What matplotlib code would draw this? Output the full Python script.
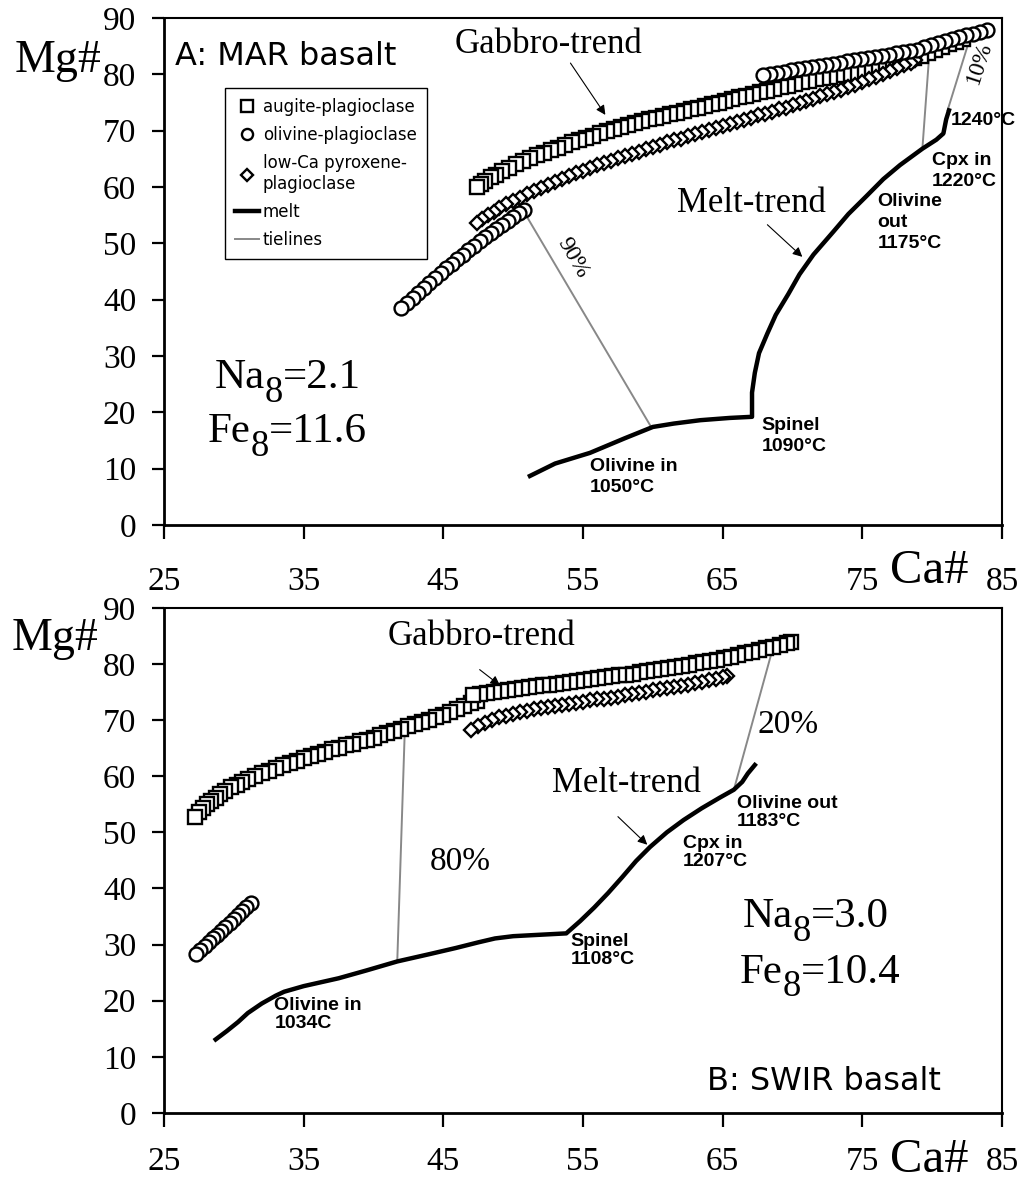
import numpy as np
import matplotlib
matplotlib.use("Agg")
import matplotlib.pyplot as plt

plt.rcParams["font.family"] = ["Liberation Serif", "DejaVu Serif"]

# ---------------- Panel A: MAR basalt ----------------
a_sq_x = [47.4, 47.7, 48.0, 48.4, 48.8, 49.2, 49.7, 50.2, 50.7, 51.2, 51.7, 52.2, 52.7, 53.2,
          53.7, 54.2, 54.7, 55.2, 55.7, 56.2, 56.7, 57.2, 57.7, 58.2, 58.7, 59.2, 59.7, 60.2,
          60.7, 61.2, 61.7, 62.2, 62.7, 63.2, 63.7, 64.2, 64.7, 65.2, 65.7, 66.2, 66.7, 67.2,
          67.7, 68.2, 68.7, 69.2, 69.7, 70.2, 70.7, 71.2, 71.7, 72.2, 72.7, 73.2, 73.7, 74.2,
          74.7, 75.2, 75.7, 76.2, 76.7, 77.2, 77.7, 78.2, 78.7, 79.2, 79.7, 80.2, 80.7, 81.2,
          81.7, 82.2]
a_sq_y = [60.0, 60.6, 61.1, 61.7, 62.2, 62.8, 63.4, 64.0, 64.6, 65.1, 65.6, 66.1, 66.6, 67.0,
          67.4, 67.9, 68.3, 68.7, 69.1, 69.5, 69.9, 70.3, 70.6, 71.0, 71.3, 71.7, 72.0, 72.3,
          72.6, 72.9, 73.2, 73.5, 73.8, 74.1, 74.4, 74.7, 75.0, 75.3, 75.6, 75.9, 76.2, 76.5,
          76.8, 77.1, 77.4, 77.7, 78.0, 78.3, 78.6, 78.8, 79.1, 79.3, 79.6, 79.8, 80.1, 80.3,
          80.6, 80.8, 81.1, 81.3, 81.6, 81.9, 82.2, 82.5, 82.9, 83.3, 83.8, 84.3, 84.8, 85.3,
          85.8, 86.3]

a_di_x = [47.4, 47.8, 48.2, 48.6, 49.0, 49.5, 50.0, 50.5, 51.0, 51.5, 52.0, 52.5, 53.0, 53.5,
          54.0, 54.5, 55.0, 55.5, 56.0, 56.5, 57.0, 57.5, 58.0, 58.5, 59.0, 59.5, 60.0, 60.5,
          61.0, 61.5, 62.0, 62.5, 63.0, 63.5, 64.0, 64.5, 65.0, 65.5, 66.0, 66.5, 67.0, 67.5,
          68.0, 68.5, 69.0, 69.5, 70.0, 70.5, 71.0, 71.5, 72.0, 72.5, 73.0, 73.5, 74.0, 74.5,
          75.0, 75.5, 76.0, 76.5, 77.0, 77.5, 78.0, 78.5, 78.8]
a_di_y = [53.6, 54.3, 55.0, 55.6, 56.2, 56.9, 57.5, 58.1, 58.7, 59.3, 59.8, 60.4, 60.9, 61.4,
          61.9, 62.4, 62.9, 63.4, 63.9, 64.3, 64.7, 65.1, 65.5, 65.9, 66.3, 66.7, 67.1, 67.5,
          67.9, 68.3, 68.6, 69.0, 69.4, 69.7, 70.1, 70.5, 70.8, 71.2, 71.6, 71.9, 72.3, 72.7,
          73.0, 73.4, 73.8, 74.1, 74.5, 74.9, 75.3, 75.7, 76.1, 76.5, 76.9, 77.3, 77.7, 78.1,
          78.6, 79.1, 79.6, 80.1, 80.6, 81.1, 81.6, 82.1, 82.5]

a_ci_hi_x = [67.9, 68.4, 68.9, 69.4, 69.9, 70.4, 70.9, 71.4, 71.9, 72.4, 72.9, 73.4, 73.9, 74.4,
             74.9, 75.4, 75.9, 76.4, 76.9, 77.4, 77.9, 78.4, 78.9, 79.4, 79.9, 80.4, 80.9, 81.4,
             81.9, 82.4, 82.9, 83.4, 83.9]
a_ci_hi_y = [79.9, 80.1, 80.3, 80.5, 80.7, 80.9, 81.1, 81.3, 81.5, 81.7, 81.9, 82.1, 82.3, 82.5,
             82.7, 82.9, 83.1, 83.3, 83.5, 83.7, 83.9, 84.1, 84.3, 84.8, 85.2, 85.6, 86.0, 86.3,
             86.6, 86.9, 87.2, 87.5, 87.8]

a_ci_lo_x = [42.0, 42.4, 42.8, 43.2, 43.6, 44.0, 44.4, 44.8, 45.2, 45.6, 46.0, 46.4, 46.8, 47.2,
             47.6, 48.0, 48.4, 48.8, 49.2, 49.6, 50.0, 50.4, 50.8]
a_ci_lo_y = [38.5, 39.4, 40.3, 41.2, 42.1, 43.0, 43.9, 44.8, 45.6, 46.4, 47.2, 48.0, 48.8, 49.6,
             50.4, 51.1, 51.8, 52.5, 53.2, 53.9, 54.6, 55.3, 56.0]

a_melt_x = [51.2, 53.0, 55.5, 58.0, 60.0, 61.5, 63.4, 65.5, 67.1, 67.1, 67.3, 67.6, 68.2, 68.8,
            69.7, 70.5, 71.5, 72.9, 74.0, 75.3, 76.5, 77.7, 79.3, 80.3, 80.8, 81.0, 81.2]
a_melt_y = [8.7, 10.9, 12.8, 15.4, 17.4, 18.0, 18.6, 19.0, 19.2, 23.5, 27.0, 30.5, 34.0, 37.3,
            41.0, 44.5, 48.0, 52.0, 55.2, 58.4, 61.4, 63.9, 66.8, 68.4, 69.5, 72.0, 73.6]

a_tie_x = [[50.7, 59.9], [79.3, 79.8], [81.1, 82.8]]
a_tie_y = [[55.9, 17.3], [66.9, 83.9], [73.6, 87.2]]

# ---------------- Panel B: SWIR basalt ----------------
b_sq1_x = [47.1, 47.6, 48.1, 48.6, 49.1, 49.6, 50.1, 50.6, 51.1, 51.6, 52.1, 52.6, 53.1, 53.6,
           54.1, 54.6, 55.1, 55.6, 56.1, 56.6, 57.1, 57.6, 58.1, 58.6, 59.1, 59.6, 60.1, 60.6,
           61.1, 61.6, 62.1, 62.6, 63.1, 63.6, 64.1, 64.6, 65.1, 65.6, 66.1, 66.6, 67.1, 67.6,
           68.1, 68.6, 69.1, 69.6, 69.9]
b_sq1_y = [74.5, 74.7, 74.9, 75.0, 75.2, 75.4, 75.5, 75.7, 75.9, 76.0, 76.2, 76.3, 76.5, 76.6,
           76.8, 77.0, 77.1, 77.3, 77.5, 77.6, 77.8, 78.0, 78.1, 78.3, 78.5, 78.7, 78.9, 79.1,
           79.3, 79.5, 79.7, 79.9, 80.1, 80.3, 80.6, 80.8, 81.1, 81.3, 81.6, 81.9, 82.2, 82.5,
           82.8, 83.1, 83.4, 83.7, 83.9]

b_sq2_x = [27.2, 27.5, 27.8, 28.1, 28.4, 28.7, 29.0, 29.4, 29.8, 30.2, 30.6, 31.0, 31.5, 32.0,
           32.5, 33.0, 33.5, 34.0, 34.5, 35.0, 35.5, 36.0, 36.5, 37.0, 37.5, 38.0, 38.5, 39.0,
           39.5, 40.0, 40.5, 41.0, 41.5, 42.0, 42.5, 43.0, 43.5, 44.0, 44.5, 45.0, 45.5, 46.0,
           46.5, 47.0, 47.4]
b_sq2_y = [52.8, 53.6, 54.3, 55.0, 55.6, 56.2, 56.8, 57.4, 58.0, 58.5, 59.0, 59.5, 60.0, 60.5,
           61.0, 61.5, 62.0, 62.4, 62.8, 63.2, 63.6, 64.0, 64.4, 64.8, 65.1, 65.5, 65.8, 66.2,
           66.5, 66.9, 67.3, 67.7, 68.1, 68.5, 68.9, 69.3, 69.7, 70.1, 70.5, 71.0, 71.5, 72.0,
           72.5, 73.0, 73.4]

b_di_x = [47.0, 47.5, 48.0, 48.5, 49.0, 49.5, 50.0, 50.5, 51.0, 51.5, 52.0, 52.5, 53.0, 53.5,
          54.0, 54.5, 55.0, 55.5, 56.0, 56.5, 57.0, 57.5, 58.0, 58.5, 59.0, 59.5, 60.0, 60.5,
          61.0, 61.5, 62.0, 62.5, 63.0, 63.5, 64.0, 64.5, 65.0, 65.3]
b_di_y = [68.3, 68.9, 69.5, 70.0, 70.5, 70.8, 71.1, 71.4, 71.7, 71.9, 72.1, 72.3, 72.5, 72.7,
          72.9, 73.1, 73.3, 73.5, 73.7, 73.8, 74.0, 74.2, 74.4, 74.6, 74.9, 75.1, 75.3, 75.5,
          75.7, 75.9, 76.1, 76.3, 76.6, 76.8, 77.1, 77.4, 77.7, 77.9]

b_ci_x = [27.3, 27.6, 27.9, 28.2, 28.5, 28.8, 29.1, 29.4, 29.7, 30.0, 30.3, 30.6, 30.9, 31.2]
b_ci_y = [28.3, 29.0, 29.7, 30.4, 31.1, 31.8, 32.5, 33.2, 33.9, 34.6, 35.3, 36.0, 36.7, 37.4]

b_melt_x = [28.7, 29.5, 30.3, 31.0, 32.0, 33.0, 33.6, 35.0, 37.5, 39.5, 41.7, 44.0, 45.9, 47.5,
            48.7, 50.0, 51.5, 53.8, 54.8, 55.8, 56.8, 57.8, 58.8, 59.8, 61.0, 62.2, 63.5, 64.8,
            65.8, 66.4, 66.8, 67.3]
b_melt_y = [13.1, 14.6, 16.2, 17.8, 19.5, 20.9, 21.6, 22.6, 24.0, 25.4, 27.0, 28.3, 29.4, 30.4,
            31.1, 31.5, 31.7, 32.0, 34.2, 36.6, 39.2, 42.0, 44.9, 47.4, 50.0, 52.2, 54.3, 56.2,
            57.6, 59.0, 60.5, 62.0]

b_tie_x = [[41.7, 42.25], [65.8, 68.5]]
b_tie_y = [[27.0, 69.0], [57.6, 82.0]]

X_TICKS = [25, 35, 45, 55, 65, 75, 85]
Y_TICKS = [0, 10, 20, 30, 40, 50, 60, 70, 80, 90]
LEGEND_LABELS = ["augite-plagioclase", "olivine-plagioclase",
                 "low-Ca pyroxene-\nplagioclase", "melt", "tielines"]

MK = dict(ls="none", mfc="white", mec="black", mew=1.7)
LBL = dict(family="Liberation Sans", weight="bold", fontsize=14, va="top", ha="left")
TREND = dict(family="Liberation Serif", fontsize=25)
ARROW = dict(arrowstyle="-|>", color="black", lw=0.8, mutation_scale=14,
             shrinkA=0, shrinkB=0)
TIE = dict(color="#888888", lw=1.4, zorder=2)


def markers(ax, x, y, marker, ms):
    # draw from high Ca# to low so the last (coolest) point sits on top
    h, = ax.plot(np.asarray(x)[::-1], np.asarray(y)[::-1], marker=marker, ms=ms,
                 zorder=4, **MK)
    return h


def sub_label(ax, x, y, head, sub, tail, size=31):
    # "Na" + large lowered "8" + "=2.1", like the original typesetting
    t1 = ax.text(x, y, head, fontsize=size, ha="left", va="baseline")
    t2 = ax.annotate(sub, xy=(1, 0), xycoords=(t1, t1), fontsize=size * 0.85,
                     ha="left", va="bottom", xytext=(0, -9), textcoords="offset points")
    ax.annotate(tail, xy=(1, 0), xycoords=(t2, t1), fontsize=size,
                ha="left", va="bottom")


def style_axes(ax, xpad):
    ax.set_xlim(25, 85)
    ax.set_ylim(0, 90)
    ax.set_xticks(X_TICKS)
    ax.set_yticks(Y_TICKS)
    ax.tick_params(axis="x", direction="out", length=10, width=1.6,
                   labelsize=24, pad=xpad)
    ax.tick_params(axis="y", direction="out", length=9, width=1.6,
                   labelsize=24, pad=11)
    for s in ["left", "bottom"]:
        ax.spines[s].set_linewidth(2.0)
    for s in ["top", "right"]:
        ax.spines[s].set_linewidth(1.5)


fig = plt.figure(figsize=(10.25, 11.85), dpi=100)
axA = fig.add_axes([0.160, 0.5570, 0.8176, 0.4278])
axB = fig.add_axes([0.160, 0.0608, 0.8176, 0.4262])

# ---- panel A
for tx, ty in zip(a_tie_x, a_tie_y):
    h_tie, = axA.plot(tx, ty, **TIE)
h_melt, = axA.plot(a_melt_x, a_melt_y, color="black", lw=3.2, zorder=3,
                   solid_joinstyle="round")
markers(axA, a_ci_lo_x, a_ci_lo_y, "o", 10)
h_sq = markers(axA, a_sq_x, a_sq_y, "s", 10)
h_di = markers(axA, a_di_x, a_di_y, "D", 7.5)
h_ci = markers(axA, a_ci_hi_x, a_ci_hi_y, "o", 10)
style_axes(axA, 20)

leg = axA.legend([h_sq, h_ci, h_di, h_melt, h_tie], LEGEND_LABELS,
                 loc="upper left", bbox_to_anchor=(0.073, 0.862), borderaxespad=0,
                 fancybox=False, edgecolor="black", framealpha=1,
                 prop={"family": "DejaVu Sans", "size": 12},
                 handlelength=1.4, handletextpad=0.25, labelspacing=0.6,
                 borderpad=0.6, numpoints=1, markerscale=0.8)
leg.get_frame().set_linewidth(1.0)

axA.text(25.8, 81.7, "A: MAR basalt", family="DejaVu Sans", fontsize=23, va="baseline")
axA.text(45.8, 83.8, "Gabbro-trend", va="baseline", **TREND)
axA.annotate("", xy=(56.6, 72.8), xytext=(54.1, 82.0), arrowprops=ARROW)
axA.text(61.7, 55.6, "Melt-trend", va="baseline", **TREND)
axA.annotate("", xy=(70.7, 47.6), xytext=(68.2, 53.3), arrowprops=ARROW)
axA.text(54.3, 47.4, "90%", fontsize=17, rotation=-60, rotation_mode="anchor",
         ha="center", va="center")
axA.text(83.4, 82.0, "10%", fontsize=17, rotation=72, rotation_mode="anchor",
         ha="center", va="center")
axA.text(55.5, 11.9, "Olivine in\n1050°C", linespacing=1.3, **LBL)
axA.text(67.8, 19.2, "Spinel\n1090°C", linespacing=1.3, **LBL)
axA.text(76.1, 58.9, "Olivine\nout\n1175°C", linespacing=1.3, **LBL)
axA.text(80.0, 66.2, "Cpx in\n1220°C", linespacing=1.3, **LBL)
axA.text(81.3, 73.3, "1240°C", clip_on=False, **LBL)
sub_label(axA, 28.65, 24.3, "Na", "8", "=2.1")
sub_label(axA, 28.1, 14.7, "Fe", "8", "=11.6")

# ---- panel B
for tx, ty in zip(b_tie_x, b_tie_y):
    axB.plot(tx, ty, **TIE)
axB.plot(b_melt_x, b_melt_y, color="black", lw=3.2, zorder=3, solid_joinstyle="round")
markers(axB, b_ci_x, b_ci_y, "o", 10)
markers(axB, b_sq2_x, b_sq2_y, "s", 10)
markers(axB, b_sq1_x, b_sq1_y, "s", 10)
markers(axB, b_di_x, b_di_y, "D", 7.5)
style_axes(axB, 14)

axB.text(63.9, 4.1, "B: SWIR basalt", family="DejaVu Sans", fontsize=23, va="baseline")
axB.text(41.0, 83.4, "Gabbro-trend", va="baseline", **TREND)
axB.annotate("", xy=(49.05, 76.2), xytext=(47.6, 79.0), arrowprops=ARROW)
axB.text(52.8, 57.2, "Melt-trend", va="baseline", **TREND)
axB.annotate("", xy=(59.6, 47.8), xytext=(57.5, 52.8), arrowprops=ARROW)
axB.text(44.0, 43.3, "80%", fontsize=24, va="baseline")
axB.text(67.5, 67.7, "20%", fontsize=24, va="baseline")
axB.text(66.0, 56.7, "Olivine out\n1183°C", linespacing=1.1, **LBL)
axB.text(62.15, 49.5, "Cpx in\n1207°C", linespacing=1.1, **LBL)
axB.text(54.1, 32.1, "Spinel\n1108°C", linespacing=1.1, **LBL)
axB.text(32.9, 20.7, "Olivine in\n1034C", linespacing=1.1, **LBL)
sub_label(axB, 66.45, 33.1, "Na", "8", "=3.0")
sub_label(axB, 66.2, 23.2, "Fe", "8", "=10.4")

# axis titles sit beside the tick labels
fig.text(0.0146, 0.9392, "Mg#", fontsize=33, va="baseline")
fig.text(0.0117, 0.4515, "Mg#", fontsize=33, va="baseline")
fig.text(0.868, 0.508, "Ca#", fontsize=35, va="baseline")
fig.text(0.868, 0.011, "Ca#", fontsize=35, va="baseline")

fig.savefig("out.png", dpi=100)
